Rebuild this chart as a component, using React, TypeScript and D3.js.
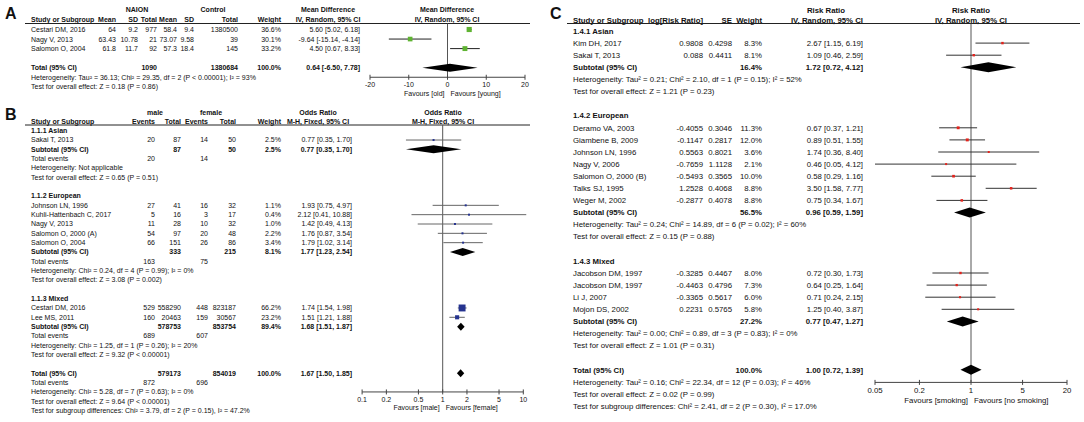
import * as React from 'react';
import * as d3 from 'd3';

// ---------- A: age, NAION vs control (mean difference) ----------
const aStudies = ['Cestari DM, 2016', 'Nagy V, 2013', 'Salomon O, 2004'];
const aNaionMean = [64, 63.43, 61.8];
const aNaionSd = [9.2, 10.78, 11.7];
const aNaionTotal = [977, 21, 92];
const aCtrlMean = [58.4, 73.07, 57.3];
const aCtrlSd = [9.4, 9.58, 18.4];
const aCtrlTotal = [1380500, 39, 145];
const aWeight = [36.6, 30.1, 33.2];
const aMd = [5.6, -9.64, 4.5];
const aLo = [5.02, -15.14, 0.67];
const aHi = [6.18, -4.14, 8.33];
const aPooledTotals = [1090, 1380684];
const aPooled = [0.64, -6.5, 7.78];
const aHet = 'Heterogeneity: Tau² = 36.13; Chi² = 29.35, df = 2 (P < 0.00001); I² = 93%';
const aTest = 'Test for overall effect: Z = 0.18 (P = 0.86)';
const aTicks = [-20, -10, 0, 10, 20];

// ---------- B: sex, male vs female (odds ratio) ----------
const bGroups = ['1.1.1 Asian', '1.1.2 European', '1.1.3 Mixed'];
const bStudies = [
  ['Sakai T, 2013'],
  ['Johnson LN, 1996', 'Kuhli-Hattenbach C, 2017', 'Nagy V, 2013', 'Salomon O, 2000 (A)', 'Salomon O, 2004'],
  ['Cestari DM, 2016', 'Lee MS, 2011'],
];
const bMaleEvents = [[20], [27, 5, 11, 54, 66], [529, 160]];
const bMaleTotal = [[87], [41, 16, 28, 97, 151], [558290, 20463]];
const bFemaleEvents = [[14], [16, 3, 10, 20, 26], [448, 159]];
const bFemaleTotal = [[50], [32, 17, 32, 48, 86], [823187, 30567]];
const bWeight = [[2.5], [1.1, 0.4, 1.0, 2.2, 3.4], [66.2, 23.2]];
const bOr = [[0.77], [1.93, 2.12, 1.42, 1.76, 1.79], [1.74, 1.51]];
const bLo = [[0.35], [0.75, 0.41, 0.49, 0.87, 1.02], [1.54, 1.21]];
const bHi = [[1.7], [4.97, 10.88, 4.13, 3.54, 3.14], [1.98, 1.88]];
const bSubTotals = [[87, 50], [333, 215], [578753, 853754]];
const bSubEvents = [[20, 14], [163, 75], [689, 607]];
const bSubWeight = [2.5, 8.1, 89.4];
const bSubOr = [[0.77, 0.35, 1.7], [1.77, 1.23, 2.54], [1.68, 1.51, 1.87]];
const bSubHet = [
  'Heterogeneity: Not applicable',
  'Heterogeneity: Chi² = 0.24, df = 4 (P = 0.99); I² = 0%',
  'Heterogeneity: Chi² = 1.25, df = 1 (P = 0.26); I² = 20%',
];
const bSubTest = [
  'Test for overall effect: Z = 0.65 (P = 0.51)',
  'Test for overall effect: Z = 3.08 (P = 0.002)',
  'Test for overall effect: Z = 9.32 (P < 0.00001)',
];
const bPooledTotals = [579173, 854019];
const bPooledEvents = [872, 696];
const bPooled = [1.67, 1.5, 1.85];
const bHet = 'Heterogeneity: Chi² = 5.28, df = 7 (P = 0.63); I² = 0%';
const bTest = 'Test for overall effect: Z = 9.64 (P < 0.00001)';
const bSubgroupTest = 'Test for subgroup differences: Chi² = 3.79, df = 2 (P = 0.15), I² = 47.2%';
const bTicks = [0.1, 0.2, 0.5, 1, 2, 5, 10];

// ---------- C: smoking (risk ratio) ----------
const cGroups = ['1.4.1 Asian', '1.4.2 European', '1.4.3 Mixed'];
const cStudies = [
  ['Kim DH, 2017', 'Sakai T, 2013'],
  ['Deramo VA, 2003', 'Giambene B, 2009', 'Johnson LN, 1996', 'Nagy V, 2006', 'Salomon O, 2000 (B)', 'Talks SJ, 1995', 'Weger M, 2002'],
  ['Jacobson DM, 1997', 'Jacobson DM, 1997', 'Li J, 2007', 'Mojon DS, 2002'],
];
const cLogRr = [[0.9808, 0.088], [-0.4055, -0.1147, 0.5563, -0.7659, -0.5493, 1.2528, -0.2877], [-0.3285, -0.4463, -0.3365, 0.2231]];
const cSe = [[0.4298, 0.4411], [0.3046, 0.2817, 0.8021, 1.1128, 0.3565, 0.4068, 0.4078], [0.4467, 0.4796, 0.5617, 0.5765]];
const cWeight = [[8.3, 8.1], [11.3, 12.0, 3.6, 2.1, 10.0, 8.8, 8.8], [8.0, 7.3, 6.0, 5.8]];
const cRr = [[2.67, 1.09], [0.67, 0.89, 1.74, 0.46, 0.58, 3.5, 0.75], [0.72, 0.64, 0.71, 1.25]];
const cLo = [[1.15, 0.46], [0.37, 0.51, 0.36, 0.05, 0.29, 1.58, 0.34], [0.3, 0.25, 0.24, 0.4]];
const cHi = [[6.19, 2.59], [1.21, 1.55, 8.4, 4.12, 1.16, 7.77, 1.67], [1.73, 1.64, 2.15, 3.87]];
const cSubWeight = [16.4, 56.5, 27.2];
const cSubRr = [[1.72, 0.72, 4.12], [0.96, 0.59, 1.59], [0.77, 0.47, 1.27]];
const cSubHet = [
  'Heterogeneity: Tau² = 0.21; Chi² = 2.10, df = 1 (P = 0.15); I² = 52%',
  'Heterogeneity: Tau² = 0.24; Chi² = 14.89, df = 6 (P = 0.02); I² = 60%',
  'Heterogeneity: Tau² = 0.00; Chi² = 0.89, df = 3 (P = 0.83); I² = 0%',
];
const cSubTest = [
  'Test for overall effect: Z = 1.21 (P = 0.23)',
  'Test for overall effect: Z = 0.15 (P = 0.88)',
  'Test for overall effect: Z = 1.01 (P = 0.31)',
];
const cPooled = [1.0, 0.72, 1.39];
const cHet = 'Heterogeneity: Tau² = 0.16; Chi² = 22.34, df = 12 (P = 0.03); I² = 46%';
const cTest = 'Test for overall effect: Z = 0.02 (P = 0.99)';
const cSubgroupTest = 'Test for subgroup differences: Chi² = 2.41, df = 2 (P = 0.30), I² = 17.0%';
const cTicks = [0.05, 0.2, 1, 5, 20];

const FONT = '"Liberation Sans", Arial, Helvetica, sans-serif';

type Anchor = 'start' | 'middle' | 'end';
interface Cell { x: number; t: string; a?: Anchor; b?: boolean }
interface Mark { kind: 'sq' | 'dia'; est: number; lo: number; hi: number; w: number }
interface Row { cells: Cell[]; mark?: Mark }

interface Panel {
  label: string; labelX: number; labelY: number;
  fs: number; row0: number; step: number;
  groupY: number; headY: number; lineY: number; lineX1: number; lineX2: number;
  groupHeads: Cell[]; heads: Cell[]; rows: (Row | null)[];
  x: d3.ScaleContinuousNumeric<number, number>; ref: number; ticks: number[];
  axisRow: number; axisNudge: number; fav: [string, string];
  sqColor: string; ciColor: string; diaH: number;
}

const ci = (e: number, l: number, h: number) => `${e.toFixed(2)} [${l.toFixed(2)}, ${h.toFixed(2)}]`;
const pct = (w: number) => `${w.toFixed(1)}%`;
const txt = (n: number) => String(n);

// ---------- row builders ----------
function rowsA(): (Row | null)[] {
  const c = { st: 31, m1: 116, s1: 138, n1: 157, m2: 177, s2: 194, n2: 238, w: 281, ci: 360 };
  const rows: (Row | null)[] = aStudies.map((s, i) => ({
    cells: [
      { x: c.st, t: s },
      { x: c.m1, t: txt(aNaionMean[i]), a: 'end' },
      { x: c.s1, t: txt(aNaionSd[i]), a: 'end' },
      { x: c.n1, t: txt(aNaionTotal[i]), a: 'end' },
      { x: c.m2, t: txt(aCtrlMean[i]), a: 'end' },
      { x: c.s2, t: txt(aCtrlSd[i]), a: 'end' },
      { x: c.n2, t: txt(aCtrlTotal[i]), a: 'end' },
      { x: c.w, t: pct(aWeight[i]), a: 'end' },
      { x: c.ci, t: ci(aMd[i], aLo[i], aHi[i]), a: 'end' },
    ],
    mark: { kind: 'sq', est: aMd[i], lo: aLo[i], hi: aHi[i], w: aWeight[i] },
  }));
  rows.push(null);
  rows.push({
    cells: [
      { x: c.st, t: 'Total (95% CI)', b: true },
      { x: c.n1, t: txt(aPooledTotals[0]), a: 'end', b: true },
      { x: c.n2, t: txt(aPooledTotals[1]), a: 'end', b: true },
      { x: c.w, t: '100.0%', a: 'end', b: true },
      { x: c.ci, t: ci(aPooled[0], aPooled[1], aPooled[2]), a: 'end', b: true },
    ],
    mark: { kind: 'dia', est: aPooled[0], lo: aPooled[1], hi: aPooled[2], w: 100 },
  });
  rows.push({ cells: [{ x: c.st, t: aHet }] });
  rows.push({ cells: [{ x: c.st, t: aTest }] });
  return rows;
}

function rowsB(): (Row | null)[] {
  const c = { st: 31, e1: 155, n1: 181, e2: 208, n2: 236, w: 281, ci: 352 };
  const rows: (Row | null)[] = [];
  bGroups.forEach((g, gi) => {
    rows.push({ cells: [{ x: c.st, t: g, b: true }] });
    bStudies[gi].forEach((s, i) => rows.push({
      cells: [
        { x: c.st, t: s },
        { x: c.e1, t: txt(bMaleEvents[gi][i]), a: 'end' },
        { x: c.n1, t: txt(bMaleTotal[gi][i]), a: 'end' },
        { x: c.e2, t: txt(bFemaleEvents[gi][i]), a: 'end' },
        { x: c.n2, t: txt(bFemaleTotal[gi][i]), a: 'end' },
        { x: c.w, t: pct(bWeight[gi][i]), a: 'end' },
        { x: c.ci, t: ci(bOr[gi][i], bLo[gi][i], bHi[gi][i]), a: 'end' },
      ],
      mark: { kind: 'sq', est: bOr[gi][i], lo: bLo[gi][i], hi: bHi[gi][i], w: bWeight[gi][i] },
    }));
    const so = bSubOr[gi];
    rows.push({
      cells: [
        { x: c.st, t: 'Subtotal (95% CI)', b: true },
        { x: c.n1, t: txt(bSubTotals[gi][0]), a: 'end', b: true },
        { x: c.n2, t: txt(bSubTotals[gi][1]), a: 'end', b: true },
        { x: c.w, t: pct(bSubWeight[gi]), a: 'end', b: true },
        { x: c.ci, t: ci(so[0], so[1], so[2]), a: 'end', b: true },
      ],
      mark: { kind: 'dia', est: so[0], lo: so[1], hi: so[2], w: bSubWeight[gi] },
    });
    rows.push({
      cells: [
        { x: c.st, t: 'Total events' },
        { x: c.e1, t: txt(bSubEvents[gi][0]), a: 'end' },
        { x: c.e2, t: txt(bSubEvents[gi][1]), a: 'end' },
      ],
    });
    rows.push({ cells: [{ x: c.st, t: bSubHet[gi] }] });
    rows.push({ cells: [{ x: c.st, t: bSubTest[gi] }] });
    rows.push(null);
  });
  rows.push({
    cells: [
      { x: c.st, t: 'Total (95% CI)', b: true },
      { x: c.n1, t: txt(bPooledTotals[0]), a: 'end', b: true },
      { x: c.n2, t: txt(bPooledTotals[1]), a: 'end', b: true },
      { x: c.w, t: '100.0%', a: 'end', b: true },
      { x: c.ci, t: ci(bPooled[0], bPooled[1], bPooled[2]), a: 'end', b: true },
    ],
    mark: { kind: 'dia', est: bPooled[0], lo: bPooled[1], hi: bPooled[2], w: 100 },
  });
  rows.push({
    cells: [
      { x: c.st, t: 'Total events' },
      { x: c.e1, t: txt(bPooledEvents[0]), a: 'end' },
      { x: c.e2, t: txt(bPooledEvents[1]), a: 'end' },
    ],
  });
  rows.push({ cells: [{ x: c.st, t: bHet }] });
  rows.push({ cells: [{ x: c.st, t: bTest }] });
  rows.push({ cells: [{ x: c.st, t: bSubgroupTest }] });
  return rows;
}

function rowsC(): (Row | null)[] {
  const c = { st: 573, lg: 703, se: 732, w: 762, ci: 863 };
  const rows: (Row | null)[] = [];
  cGroups.forEach((g, gi) => {
    rows.push({ cells: [{ x: c.st, t: g, b: true }] });
    cStudies[gi].forEach((s, i) => rows.push({
      cells: [
        { x: c.st, t: s },
        { x: c.lg, t: txt(cLogRr[gi][i]), a: 'end' },
        { x: c.se, t: txt(cSe[gi][i]), a: 'end' },
        { x: c.w, t: pct(cWeight[gi][i]), a: 'end' },
        { x: c.ci, t: ci(cRr[gi][i], cLo[gi][i], cHi[gi][i]), a: 'end' },
      ],
      mark: { kind: 'sq', est: cRr[gi][i], lo: cLo[gi][i], hi: cHi[gi][i], w: cWeight[gi][i] },
    }));
    const sr = cSubRr[gi];
    rows.push({
      cells: [
        { x: c.st, t: 'Subtotal (95% CI)', b: true },
        { x: c.w, t: pct(cSubWeight[gi]), a: 'end', b: true },
        { x: c.ci, t: ci(sr[0], sr[1], sr[2]), a: 'end', b: true },
      ],
      mark: { kind: 'dia', est: sr[0], lo: sr[1], hi: sr[2], w: cSubWeight[gi] },
    });
    rows.push({ cells: [{ x: c.st, t: cSubHet[gi] }] });
    rows.push({ cells: [{ x: c.st, t: cSubTest[gi] }] });
    rows.push(null);
  });
  rows.push({
    cells: [
      { x: c.st, t: 'Total (95% CI)', b: true },
      { x: c.w, t: '100.0%', a: 'end', b: true },
      { x: c.ci, t: ci(cPooled[0], cPooled[1], cPooled[2]), a: 'end', b: true },
    ],
    mark: { kind: 'dia', est: cPooled[0], lo: cPooled[1], hi: cPooled[2], w: 100 },
  });
  rows.push({ cells: [{ x: c.st, t: cHet }] });
  rows.push({ cells: [{ x: c.st, t: cTest }] });
  rows.push({ cells: [{ x: c.st, t: cSubgroupTest }] });
  return rows;
}

// ---------- generic forest renderer ----------
function Forest({ p }: { p: Panel }) {
  const ry = (i: number) => p.row0 + i * p.step;
  const axisY = ry(p.axisRow) + p.axisNudge;
  const x0 = p.x(p.ref);
  const [d0, d1] = p.x.domain();
  const k = p.fs / 7.2;

  const label = (c: Cell, y: number, key: string) => (
    <text key={key} x={c.x} y={y} dy="0.35em" textAnchor={c.a || 'start'} fontWeight={c.b ? 'bold' : 'normal'}>
      {c.t}
    </text>
  );

  const mark = (m: Mark, y: number) => {
    if (m.kind === 'dia') {
      const h = p.diaH / 2;
      const pts = [[p.x(m.lo), y], [p.x(m.est), y - h], [p.x(m.hi), y], [p.x(m.est), y + h]];
      return <polygon points={pts.map(q => q.join(',')).join(' ')} fill="#000" />;
    }
    const s = Math.max(2, 0.85 * Math.sqrt(m.w));
    return (
      <g>
        <line x1={p.x(m.lo)} x2={p.x(m.hi)} y1={y} y2={y} stroke={p.ciColor} strokeWidth={1} />
        <rect x={p.x(m.est) - s / 2} y={y - s / 2} width={s} height={s} fill={p.sqColor} />
      </g>
    );
  };

  return (
    <g fontSize={p.fs} fill="#111">
      <text x={p.labelX} y={p.labelY} fontSize={16} fontWeight="bold">{p.label}</text>
      {p.groupHeads.map((c, i) => label({ ...c, b: true }, p.groupY, 'g' + i))}
      {p.heads.map((c, i) => label({ ...c, b: true }, p.headY, 'h' + i))}
      <line x1={p.lineX1} x2={p.lineX2} y1={p.lineY} y2={p.lineY} stroke="#222" strokeWidth={1} />
      <line x1={x0} x2={x0} y1={p.lineY} y2={axisY} stroke="#555" strokeWidth={1} />
      {p.rows.map((r, i) => r && (
        <g key={i}>
          {r.cells.map((c, j) => label(c, ry(i), 'c' + j))}
          {r.mark && mark(r.mark, ry(i))}
        </g>
      ))}
      <line x1={p.x(d0)} x2={p.x(d1)} y1={axisY} y2={axisY} stroke="#444" strokeWidth={1} />
      {p.ticks.map(t => (
        <g key={t}>
          <line x1={p.x(t)} x2={p.x(t)} y1={axisY - 2.5} y2={axisY + 2.5} stroke="#444" strokeWidth={1} />
          <text x={p.x(t)} y={axisY + 7.5 * k} dy="0.35em" textAnchor="middle">{String(t)}</text>
        </g>
      ))}
      <text x={x0 - 3} y={axisY + 16.5 * k} dy="0.35em" textAnchor="end">{p.fav[0]}</text>
      <text x={x0 + 3} y={axisY + 16.5 * k} dy="0.35em" textAnchor="start">{p.fav[1]}</text>
    </g>
  );
}

export default function App() {
  const panelA: Panel = {
    label: 'A', labelX: 5, labelY: 19, fs: 7.0, row0: 29.5, step: 9.55,
    groupY: 10, headY: 20, lineY: 23.5, lineX1: 25, lineX2: 530,
    groupHeads: [
      { x: 137, t: 'NAION', a: 'middle' }, { x: 213, t: 'Control', a: 'middle' },
      { x: 328, t: 'Mean Difference', a: 'middle' }, { x: 447, t: 'Mean Difference', a: 'middle' },
    ],
    heads: [
      { x: 31, t: 'Study or Subgroup' }, { x: 116, t: 'Mean', a: 'end' }, { x: 138, t: 'SD', a: 'end' },
      { x: 157, t: 'Total', a: 'end' }, { x: 177, t: 'Mean', a: 'end' }, { x: 194, t: 'SD', a: 'end' },
      { x: 238, t: 'Total', a: 'end' }, { x: 281, t: 'Weight', a: 'end' },
      { x: 328, t: 'IV, Random, 95% CI', a: 'middle' }, { x: 447, t: 'IV, Random, 95% CI', a: 'middle' },
    ],
    rows: rowsA(),
    x: d3.scaleLinear().domain([-20, 20]).range([370, 525]),
    ref: 0, ticks: aTicks, axisRow: 5, axisNudge: 0, fav: ['Favours [old]', 'Favours [young]'],
    sqColor: '#5fb332', ciColor: '#222', diaH: 8,
  };

  const panelB: Panel = {
    label: 'B', labelX: 5, labelY: 120, fs: 7.0, row0: 130.7, step: 9.33,
    groupY: 113, headY: 121.5, lineY: 125, lineX1: 25, lineX2: 530,
    groupHeads: [
      { x: 155, t: 'male', a: 'middle' }, { x: 211, t: 'female', a: 'middle' },
      { x: 318, t: 'Odds Ratio', a: 'middle' }, { x: 443, t: 'Odds Ratio', a: 'middle' },
    ],
    heads: [
      { x: 31, t: 'Study or Subgroup' }, { x: 155, t: 'Events', a: 'end' }, { x: 181, t: 'Total', a: 'end' },
      { x: 208, t: 'Events', a: 'end' }, { x: 236, t: 'Total', a: 'end' }, { x: 281, t: 'Weight', a: 'end' },
      { x: 318, t: 'M-H, Fixed, 95% CI', a: 'middle' }, { x: 443, t: 'M-H, Fixed, 95% CI', a: 'middle' },
    ],
    rows: rowsB(),
    x: d3.scaleLog().domain([0.1, 10]).range([362.1, 523.3]),
    ref: 1, ticks: bTicks, axisRow: 28, axisNudge: 0, fav: ['Favours [male]', 'Favours [female]'],
    sqColor: '#25338f', ciColor: '#666', diaH: 8,
  };

  const panelC: Panel = {
    label: 'C', labelX: 550, labelY: 19, fs: 7.8, row0: 31, step: 12.1,
    groupY: 10, headY: 20, lineY: 23.5, lineX1: 567, lineX2: 1080,
    groupHeads: [
      { x: 826, t: 'Risk Ratio', a: 'middle' }, { x: 971, t: 'Risk Ratio', a: 'middle' },
    ],
    heads: [
      { x: 573, t: 'Study or Subgroup' }, { x: 703, t: 'log[Risk Ratio]', a: 'end' },
      { x: 732, t: 'SE', a: 'end' }, { x: 762, t: 'Weight', a: 'end' },
      { x: 863, t: 'IV, Random, 95% CI', a: 'end' }, { x: 971, t: 'IV, Random, 95% CI', a: 'middle' },
    ],
    rows: rowsC(),
    x: d3.scaleLog().domain([0.05, 20]).range([875, 1067]),
    ref: 1, ticks: cTicks, axisRow: 29, axisNudge: 0.5, fav: ['Favours [smoking]', 'Favours [no smoking]'],
    sqColor: '#e3231c', ciColor: '#333', diaH: 10,
  };

  return (
    <svg width={1084} height={422} style={{ position: 'absolute', left: 0, top: 0, background: '#fff' }}
      fontFamily={FONT}>
      <rect width={1084} height={422} fill="#fff" />
      <Forest p={panelA} />
      <Forest p={panelB} />
      <Forest p={panelC} />
    </svg>
  );
}
